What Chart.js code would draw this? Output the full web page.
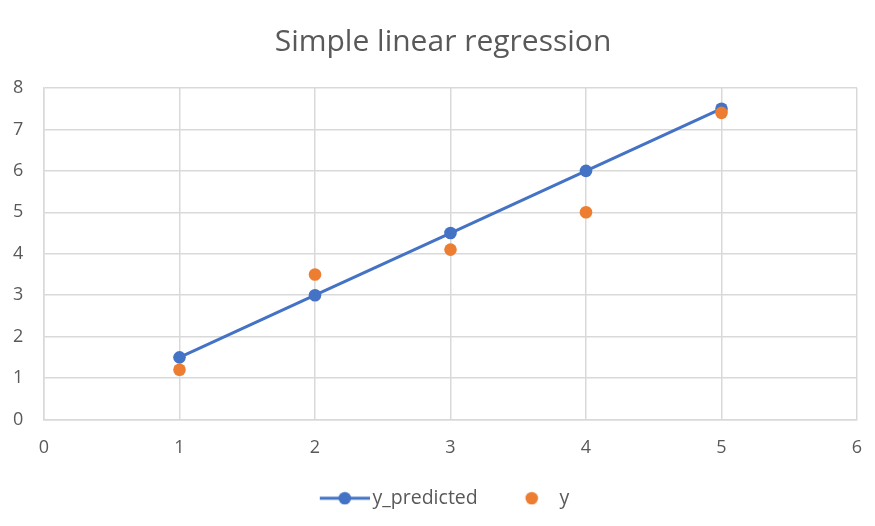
<!DOCTYPE html>
<html>
<head>
<meta charset="utf-8">
<script src="https://cdn.jsdelivr.net/npm/chart.js@4"></script>
<style>
html,body{margin:0;padding:0;background:#fff;}
#wrap{width:875px;height:526px;}
</style>
</head>
<body>
<div id="wrap"><canvas id="c" width="875" height="526"></canvas></div>
<script>
const xValues = [1, 2, 3, 4, 5];
const yPredicted = [1.5, 3, 4.5, 6, 7.5];
const yActual = [1.2, 3.5, 4.1, 5, 7.4];
const seriesNames = ['y_predicted', 'y'];
const chartTitle = 'Simple linear regression';

const BLUE = '#4472C4';
const ORANGE = '#ED7D31';
const TEXT = '#595959';
const GRID = '#D9D9D9';
const FONT = "'Open Sans', 'Noto Sans', sans-serif";

function makeSymbol(color, withLine) {
  const cv = document.createElement('canvas');
  cv.width = 60; cv.height = 14;
  const g = cv.getContext('2d');
  if (withLine) {
    g.strokeStyle = color; g.lineWidth = 3;
    g.beginPath(); g.moveTo(10, 7); g.lineTo(60, 7); g.stroke();
  }
  g.fillStyle = color;
  g.beginPath(); g.arc(35, 7, 6.3, 0, Math.PI * 2); g.fill();
  return cv;
}
const symbols = [makeSymbol(BLUE, true), makeSymbol(ORANGE, false)];

const toPoints = (xs, ys) => xs.map((x, i) => ({x: x, y: ys[i]}));

new Chart(document.getElementById('c'), {
  type: 'scatter',
  data: {
    datasets: [
      {
        label: seriesNames[0],
        data: toPoints(xValues, yPredicted),
        showLine: true,
        borderColor: BLUE,
        backgroundColor: BLUE,
        borderWidth: 3,
        pointRadius: 6.3,
        pointHoverRadius: 6.3,
        pointBorderWidth: 0,
        order: 2
      },
      {
        label: seriesNames[1],
        data: toPoints(xValues, yActual),
        showLine: false,
        borderColor: ORANGE,
        backgroundColor: ORANGE,
        pointRadius: 6.3,
        pointHoverRadius: 6.3,
        pointBorderWidth: 0,
        order: 1
      }
    ]
  },
  options: {
    responsive: false,
    devicePixelRatio: 1,
    animation: false,
    layout: {padding: {left: 29, right: 18, top: 0, bottom: 8}},
    plugins: {
      tooltip: {enabled: false},
      title: {
        display: true,
        text: chartTitle,
        color: TEXT,
        font: {family: FONT, size: 30, weight: 'normal'},
        padding: {top: 24.6, bottom: 27.4}
      },
      legend: {
        position: 'bottom',
        labels: {
          usePointStyle: true,
          pointStyleWidth: 46,
          color: TEXT,
          font: {family: FONT, size: 19.5},
          padding: 26,
          generateLabels: (chart) => chart.data.datasets.map((ds, i) => ({
            text: ds.label,
            pointStyle: symbols[i],
            fillStyle: ds.backgroundColor,
            strokeStyle: ds.borderColor,
            lineWidth: 0,
            fontColor: TEXT,
            hidden: false,
            datasetIndex: i
          }))
        }
      }
    },
    scales: {
      x: {
        type: 'linear',
        min: 0, max: 6,
        ticks: {stepSize: 1, color: TEXT, font: {family: FONT, size: 18}, padding: 18},
        grid: {color: GRID, lineWidth: 1.5, drawTicks: false},
        border: {color: GRID, width: 1.5},
        afterFit: (s) => { s.height = 43; s.paddingRight = 0; s.paddingLeft = 0; }
      },
      y: {
        type: 'linear',
        min: 0, max: 8,
        ticks: {stepSize: 1, color: TEXT, font: {family: FONT, size: 18}, mirror: true, crossAlign: 'far', padding: -31},
        grid: {color: GRID, lineWidth: 1.5, drawTicks: false},
        border: {color: GRID, width: 1.5},
        afterFit: (s) => { s.width = 15; s.paddingTop = 0; s.paddingBottom = 0; }
      }
    }
  }
});
</script>
</body>
</html>
